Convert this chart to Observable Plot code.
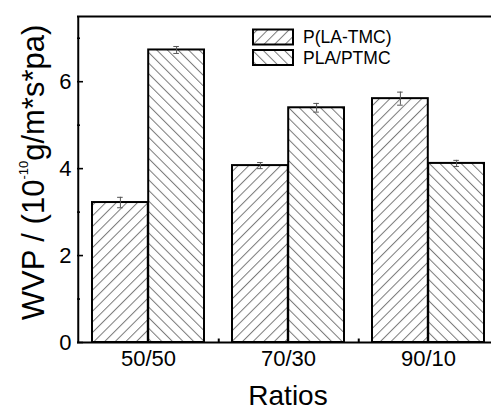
<!DOCTYPE html>
<html>
<head>
<meta charset="utf-8">
<script src="https://cdn.jsdelivr.net/npm/d3@7"></script>
<script src="https://cdn.jsdelivr.net/npm/@observablehq/plot@0.6"></script>
<style>
  html, body { margin: 0; padding: 0; background: #fff; overflow: hidden; }
  #chart svg { display: block; }
</style>
</head>
<body>
<div id="chart"></div>
<script>
// ---- data ----
const ratios = ["50/50", "70/30", "90/10"];
const seriesNames = ["P(LA-TMC)", "PLA/PTMC"];
const pLaTmc = [3.22, 4.07, 5.61];
const pLaTmcErr = [0.12, 0.07, 0.15];
const plaPtmc = [6.73, 5.40, 4.12];
const plaPtmcErr = [0.08, 0.10, 0.07];
const yTicks = [0, 2, 4, 6];
const yMinorTicks = [1, 3, 5, 7];
const yMax = 7.5;

// ---- layout ----
const W = 491, H = 410;
const mL = 77, mT = 16, mB = 68;
const xRange = [77, 498.5];
const padInner = 0.2, padOuter = 0.1;
const step = (xRange[1] - xRange[0]) / (ratios.length - padInner + 2 * padOuter);
const bw = step * (1 - padInner);

const rows1 = ratios.map((r, i) => ({ratio: r, v: pLaTmc[i], e: pLaTmcErr[i]}));
const rows2 = ratios.map((r, i) => ({ratio: r, v: plaPtmc[i], e: plaPtmcErr[i]}));
const fills = ["url(#hatch1)", "url(#hatch2)"];
const errColor = "#555";
const capHalf = 3;
const font = "'Liberation Sans', Arial, sans-serif";

const svg = Plot.plot({
  width: W, height: H,
  marginLeft: mL, marginRight: 0, marginTop: mT, marginBottom: mB,
  style: {fontFamily: font, color: "#000", background: "#fff"},
  x: {domain: ratios, range: xRange, paddingInner: padInner, paddingOuter: padOuter},
  y: {domain: [0, yMax]},
  marks: [
    Plot.barY(rows1, {x: "ratio", y: "v", insetRight: bw / 2, fill: fills[0], stroke: "#000", strokeWidth: 2}),
    Plot.barY(rows2, {x: "ratio", y: "v", insetLeft: bw / 2, fill: fills[1], stroke: "#000", strokeWidth: 2}),
    // error bars
    Plot.ruleX(rows1, {x: "ratio", y1: d => d.v - d.e, y2: d => d.v + d.e, dx: -bw / 4, stroke: errColor}),
    Plot.ruleX(rows2, {x: "ratio", y1: d => d.v - d.e, y2: d => d.v + d.e, dx: bw / 4, stroke: errColor}),
    Plot.tickY(rows1, {x: "ratio", y: d => d.v + d.e, insetLeft: bw / 4 - capHalf, insetRight: 3 * bw / 4 - capHalf, stroke: errColor}),
    Plot.tickY(rows1, {x: "ratio", y: d => d.v - d.e, insetLeft: bw / 4 - capHalf, insetRight: 3 * bw / 4 - capHalf, stroke: errColor}),
    Plot.tickY(rows2, {x: "ratio", y: d => d.v + d.e, insetLeft: 3 * bw / 4 - capHalf, insetRight: bw / 4 - capHalf, stroke: errColor}),
    Plot.tickY(rows2, {x: "ratio", y: d => d.v - d.e, insetLeft: 3 * bw / 4 - capHalf, insetRight: bw / 4 - capHalf, stroke: errColor}),
    // frame
    Plot.ruleY([0, yMax], {stroke: "#000", strokeWidth: 2}),
    Plot.ruleX([ratios[0]], {x: d => d, dx: -step / 2, y1: 0, y2: yMax, stroke: "#000", strokeWidth: 2}),
    // minor x ticks between groups
    Plot.ruleX(ratios.slice(0, -1), {x: d => d, dx: step / 2, y1: 0, y2: 0.08, stroke: "#000", strokeWidth: 2}),
    // axes
    Plot.axisY({ticks: yTicks, tickSize: -6, tickPadding: 12, fontSize: 22, strokeWidth: 1.6, label: null}),
    Plot.axisY({ticks: yMinorTicks, tickSize: -3, tickFormat: () => "", strokeWidth: 1.6, label: null}),
    Plot.axisX({tickSize: 0, tickPadding: 8, fontSize: 22, label: null})
  ]
});

const s = d3.select(svg);
const defs = s.insert("defs", ":first-child");
const hs = 7.5;
[["hatch1", 45], ["hatch2", -45]].forEach(([id, ang]) => {
  const p = defs.append("pattern")
    .attr("id", id)
    .attr("patternUnits", "userSpaceOnUse")
    .attr("width", hs).attr("height", hs)
    .attr("patternTransform", `rotate(${ang})`);
  p.append("rect").attr("width", hs).attr("height", hs).attr("fill", "#fff");
  p.append("line").attr("x1", 0.5).attr("y1", 0).attr("x2", 0.5).attr("y2", hs)
    .attr("stroke", "#7a7a7a").attr("stroke-width", 1);
});

// legend
const lg = s.append("g").attr("font-family", font).attr("text-anchor", "start");
seriesNames.forEach((name, i) => {
  const cy = 37 + i * 20.5;
  lg.append("rect").attr("x", 253).attr("y", cy - 7.5).attr("width", 40).attr("height", 15)
    .attr("fill", fills[i]).attr("stroke", "#000").attr("stroke-width", 2);
  lg.append("text").attr("x", 303).attr("y", cy + 6.4).attr("text-anchor", "start")
    .attr("font-size", "17.5px").attr("fill", "#000").text(name);
});

// y-axis title with superscript
const yt = s.append("text")
  .attr("transform", "translate(44,172.5) rotate(-90)")
  .attr("text-anchor", "middle")
  .attr("font-family", font)
  .attr("font-size", "31px").attr("fill", "#000");
yt.append("tspan").text("WVP / (10");
yt.append("tspan").attr("font-size", "13px").attr("dy", -16).text("-10");
yt.append("tspan").attr("dy", 16).text("g/m*s*pa)");

// x-axis title
s.append("text").attr("x", 288).attr("y", 405).attr("text-anchor", "middle")
  .attr("font-family", font)
  .attr("font-size", "28px").attr("fill", "#000").text("Ratios");

document.getElementById("chart").appendChild(svg);
</script>
</body>
</html>
